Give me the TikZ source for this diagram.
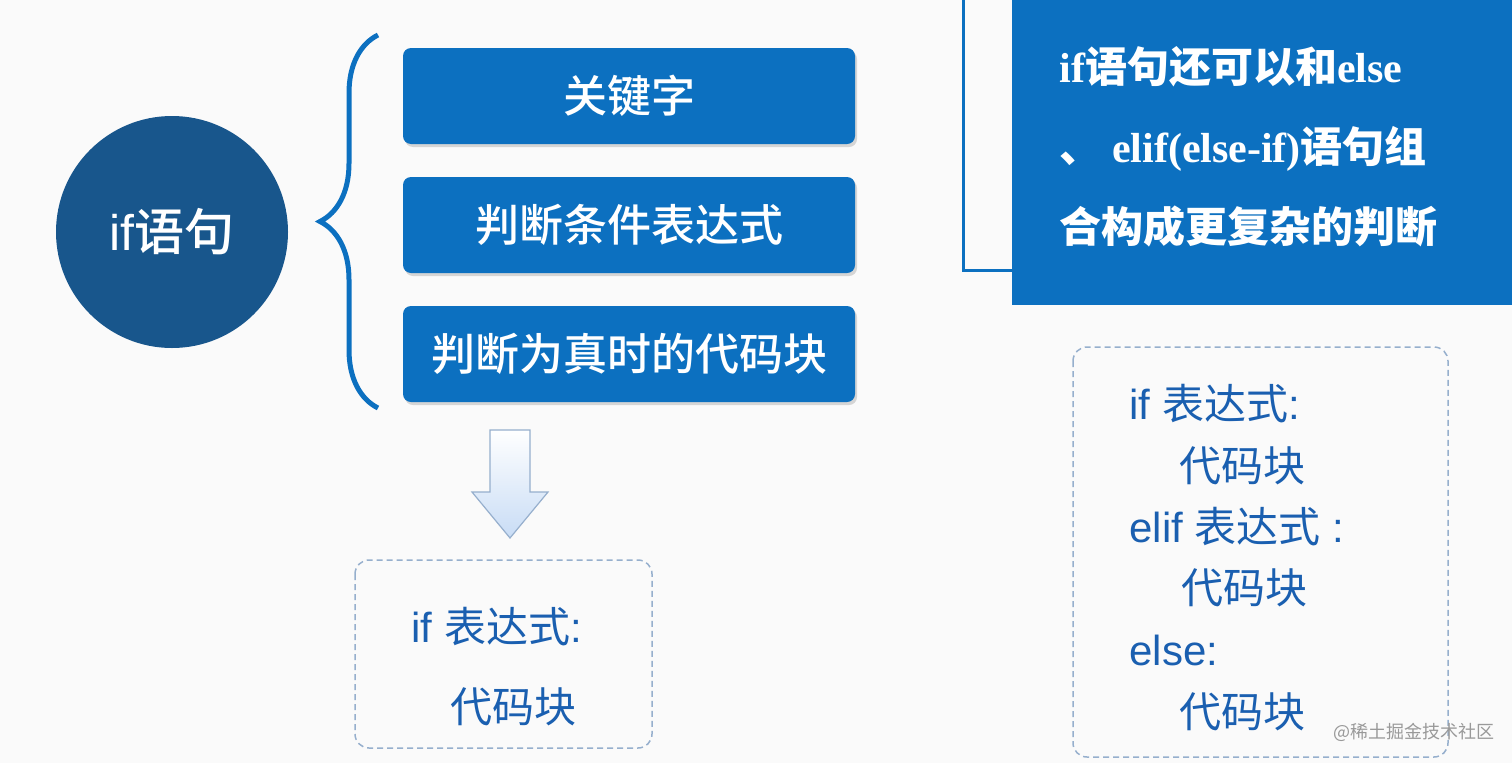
\documentclass[tikz,border=0pt]{standalone}
\usepackage{fontspec}
\setmainfont{Liberation Sans}
\newfontfamily\cjk{Noto Sans CJK SC}
\newfontfamily\cjkm{Noto Sans CJK SC Medium}
\newfontfamily\tms{Liberation Serif}
\usetikzlibrary{shadows,decorations.pathreplacing}
\definecolor{dkb}{RGB}{24,86,140}
\definecolor{boxb}{RGB}{12,112,192}
\definecolor{txb}{RGB}{26,95,176}
\definecolor{dsh}{RGB}{150,175,205}
\definecolor{arrf}{RGB}{200,220,245}
\begin{document}
\begin{tikzpicture}[x=1pt,y=-1pt,
  bluebox/.style={fill=boxb,rounded corners=8pt,minimum width=452pt,minimum height=96pt,text=white,font=\fontsize{44}{48}\selectfont\cjkm,drop shadow={opacity=0.3,shadow xshift=2pt,shadow yshift=-3pt}},
  dashbox/.style={draw=dsh,dashed,line width=1.5pt,rounded corners=14pt,dash pattern=on 6pt off 4pt},
  code/.style={anchor=base west,text=txb,font=\fontsize{42}{46}\selectfont},
  rtext/.style={anchor=base west,text=white,font=\fontsize{42}{46}\selectfont\bfseries}]
\fill[white!96!gray] (0,0) rectangle (1512,763);
\useasboundingbox (0,0) rectangle (1512,763);
% circle
\node[circle,fill=dkb,minimum size=232pt,text=white,font=\fontsize{50}{54}\selectfont] (c) at (172,232) {if{\cjkm 语句}};
% brace
\draw[boxb,line width=5pt,decorate,decoration={brace,amplitude=58pt,aspect=0.5}] (378,408) -- (378,35);
% boxes
\node[bluebox] (b1) at (629,96) {关键字};
\node[bluebox] (b2) at (629,225) {判断条件表达式};
\node[bluebox] (b3) at (629,354) {判断为真时的代码块};
% arrow
\path[top color=white,bottom color=arrf,draw=dsh,line width=1.2pt]
  (490,430) -- (530,430) -- (530,492) -- (548,492) -- (510,538) -- (472,492) -- (490,492) -- cycle;
% left dashed box
\draw[dashbox] (355,560) rectangle (652,748);
\node[code] (l1) at (408,642) {if {\cjk 表达式}:};
\node[code] (l2) at (447,722) {\cjk 代码块};
% right top
\draw[boxb,line width=3pt] (963,-5) -- (963,270) -- (1012,270);
\fill[boxb] (1012,0) rectangle (1512,305);
\node[rtext] (r1) at (1056,82) {\tms if{\cjkm 语句还可以和}else};
\node[rtext] (r2) at (1056,162) {{\cjkm 、}\tms\ elif(else-if){\cjkm 语句组}};
\node[rtext] (r3) at (1056,242) {\cjkm 合构成更复杂的判断};
% right dashed box
\draw[dashbox] (1073,347) rectangle (1448,757);
\node[code] (s1) at (1126,419) {if {\cjk 表达式}:};
\node[code] (s2) at (1176,481) {\cjk 代码块};
\node[code] (s3) at (1126,542) {elif {\cjk 表达式} :};
\node[code] (s4) at (1178,603) {\cjk 代码块};
\node[code] (s5) at (1126,665) {else:};
\node[code] (s6) at (1176,727) {\cjk 代码块};
% watermark
\node[anchor=base west,text=gray!80,font=\fontsize{18}{20}\selectfont\cjk] (wm) at (1330,738) {@稀土掘金技术社区};
\end{tikzpicture}
\end{document}
